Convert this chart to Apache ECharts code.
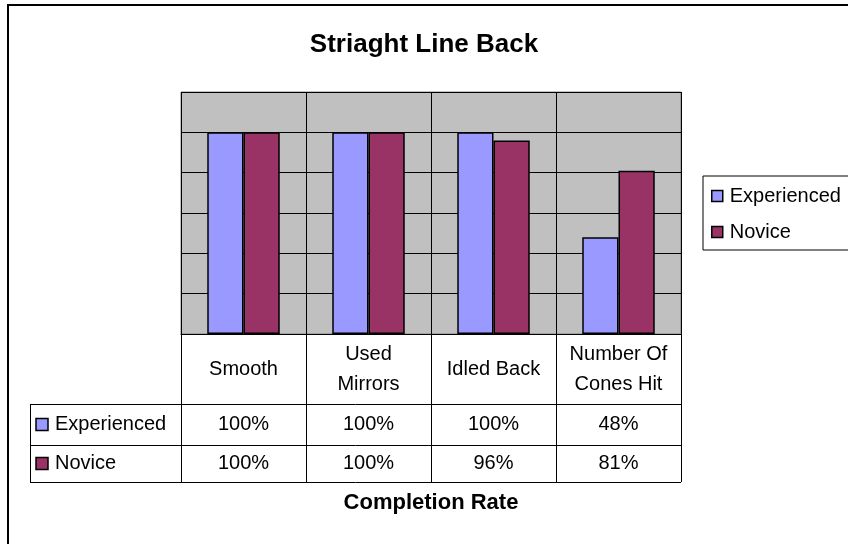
<!DOCTYPE html>
<html>
<head>
<meta charset="utf-8">
<script src="https://cdn.jsdelivr.net/npm/echarts@6/dist/echarts.min.js"></script>
<style>html,body{margin:0;padding:0;background:#fff}#c{width:848px;height:544px}</style>
</head>
<body>
<div id="c"></div>
<script>
const categories = ['Smooth', 'Used\nMirrors', 'Idled Back', 'Number Of\nCones Hit'];
const seriesNames = ['Experienced', 'Novice'];
const experienced = [100, 100, 100, 48];
const novice = [100, 100, 96, 81];
const colors = ['#9999FF', '#993366'];

const FONT = 'Arial, "Liberation Sans", sans-serif';
const gridL = 181, gridR = 681, gridT = 92, gridB = 334;
const rowTop = 404, rowMid = 445, rowBot = 482, tableLeft = 30;

const chart = echarts.init(document.getElementById('c'), null, {renderer: 'canvas'});
chart.setOption({
  animation: false,
  backgroundColor: '#fff',
  title: {
    text: 'Striaght Line Back',
    left: 'center',
    top: 32,
    padding: [0, 0, 0, 18],
    textStyle: {fontFamily: FONT, fontSize: 26, fontWeight: 'bold', color: '#000'}
  },
  legend: {
    orient: 'vertical',
    left: 703,
    top: 176,
    padding: [10, 20, 8, 8],
    itemGap: 16,
    itemWidth: 11,
    itemHeight: 11,
    icon: 'rect',
    borderColor: '#000',
    borderWidth: 1,
    itemStyle: {borderColor: '#000', borderWidth: 1.5},
    textStyle: {fontFamily: FONT, fontSize: 20, color: '#000', padding: [0, 0, 0, 2]},
    data: seriesNames
  },
  grid: {
    left: gridL, right: 848 - gridR, top: gridT, bottom: 544 - gridB,
    show: true, backgroundColor: '#C0C0C0', borderColor: '#808080', borderWidth: 1,
    containLabel: false
  },
  xAxis: {
    type: 'category',
    data: categories,
    boundaryGap: true,
    axisLine: {show: true, lineStyle: {color: '#000', width: 1}},
    axisTick: {show: false},
    splitLine: {show: true, lineStyle: {color: '#000', width: 1}},
    axisLabel: {
      fontFamily: FONT, fontSize: 20, color: '#000', lineHeight: 30,
      margin: 35, verticalAlign: 'middle', interval: 0, align: 'center'
    },
    name: 'Completion Rate',
    nameLocation: 'middle',
    nameGap: 169,
    nameTextStyle: {fontFamily: FONT, fontSize: 22, fontWeight: 'bold', color: '#000', verticalAlign: 'middle'}
  },
  yAxis: {
    type: 'value',
    min: 0, max: 120, interval: 20,
    axisLabel: {show: false},
    axisLine: {show: false},
    axisTick: {show: false},
    splitLine: {show: true, lineStyle: {color: '#000', width: 1}}
  },
  series: [
    {name: seriesNames[0], type: 'bar', data: experienced, barGap: '0%', barCategoryGap: '42%',
     itemStyle: {color: colors[0], borderColor: '#000', borderWidth: 1.5}},
    {name: seriesNames[1], type: 'bar', data: novice, barGap: '0%', barCategoryGap: '42%',
     itemStyle: {color: colors[1], borderColor: '#000', borderWidth: 1.5}}
  ]
});

// Data table below the plot
const n = categories.length;
const colW = (gridR - gridL) / n;
const centers = categories.map((c, i) => chart.convertToPixel({xAxisIndex: 0}, i));
const g = [];
const line = (x1, y1, x2, y2) => ({type: 'line', silent: true, z: 10,
  shape: {x1, y1, x2, y2}, style: {stroke: '#000', lineWidth: 1}});
// outer chart border
g.push({type: 'rect', silent: true, z: 0, shape: {x: 8, y: 5, width: 900, height: 600},
  style: {fill: null, stroke: '#000', lineWidth: 2}});
for (let i = 0; i <= n; i++) {
  const x = Math.round(gridL + i * colW) + 0.5;
  g.push(line(x, gridB, x, rowBot));
}
g.push(line(tableLeft + 0.5, rowTop, tableLeft + 0.5, rowBot));
[rowTop, rowMid, rowBot].forEach(y => g.push(line(tableLeft, y + 0.5, gridR, y + 0.5)));
const rows = [experienced, novice];
const rowCenters = [(rowTop + rowMid) / 2, (rowMid + rowBot) / 2];
rows.forEach((vals, r) => {
  const yc = rowCenters[r];
  g.push({type: 'rect', silent: true, z: 11, shape: {x: 36, y: yc - 6, width: 12, height: 12},
    style: {fill: colors[r], stroke: '#000', lineWidth: 1.5}});
  g.push({type: 'text', silent: true, z: 11, x: 55, y: yc,
    style: {text: seriesNames[r], font: '20px ' + FONT, fill: '#000', verticalAlign: 'middle', align: 'left'}});
  vals.forEach((v, i) => {
    g.push({type: 'text', silent: true, z: 11, x: centers[i], y: yc,
      style: {text: v + '%', font: '20px ' + FONT, fill: '#000', verticalAlign: 'middle', align: 'center'}});
  });
});
chart.setOption({graphic: g});
</script>
</body>
</html>
